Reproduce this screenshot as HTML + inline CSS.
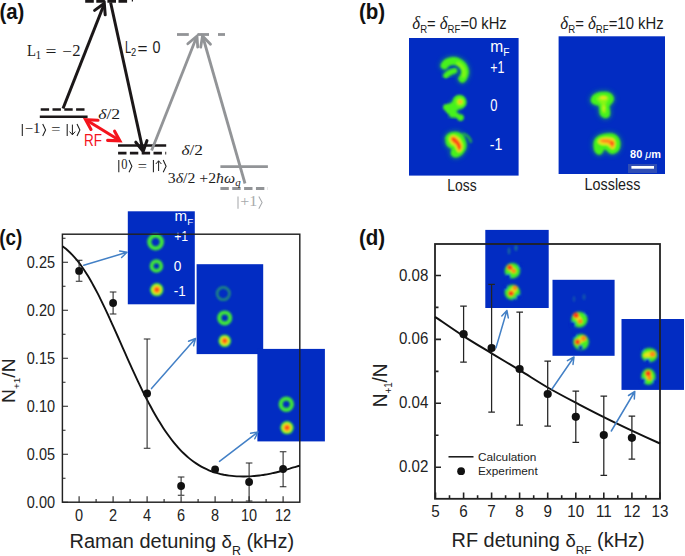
<!DOCTYPE html>
<html><head><meta charset="utf-8"><title>figure</title>
<style>
html,body{margin:0;padding:0;background:#fff;overflow:hidden;}
svg{display:block;}
text{font-family:"Liberation Sans",sans-serif;}
.ser,.ser text,.ser tspan{font-family:"Liberation Serif",serif;}
</style></head><body>
<svg width="685" height="556" viewBox="0 0 685 556">
<defs>
<filter id="b1" x="-50%" y="-50%" width="200%" height="200%"><feGaussianBlur stdDeviation="1.0"/></filter>
<filter id="b2" x="-50%" y="-50%" width="200%" height="200%"><feGaussianBlur stdDeviation="1.25"/></filter>
<filter id="b3" x="-50%" y="-50%" width="200%" height="200%"><feGaussianBlur stdDeviation="2.4"/></filter>
<radialGradient id="gHot"><stop offset="0" stop-color="#ff3c14"/><stop offset="0.28" stop-color="#ff5a18"/><stop offset="0.45" stop-color="#ffc020"/><stop offset="0.62" stop-color="#c8f020"/><stop offset="0.78" stop-color="#40e63a"/><stop offset="0.92" stop-color="#3ee03a"/><stop offset="1" stop-color="#3ee03a" stop-opacity="0"/></radialGradient>
<radialGradient id="gWarm"><stop offset="0" stop-color="#ffc020"/><stop offset="0.4" stop-color="#d0f020"/><stop offset="0.8" stop-color="#3ee03a"/><stop offset="1" stop-color="#3ee03a" stop-opacity="0"/></radialGradient>
<radialGradient id="gGreen"><stop offset="0" stop-color="#b0f030"/><stop offset="0.6" stop-color="#40e038"/><stop offset="1" stop-color="#30d040" stop-opacity="0"/></radialGradient>
</defs>
<rect width="685" height="556" fill="#fff"/>

<g id="pa">
<line x1="85.2" y1="1.2" x2="129.3" y2="1.2" stroke="#1b1718" stroke-width="2.9" stroke-dasharray="8.6 2.5"/>
<line x1="131.8" y1="0.8" x2="133" y2="0.8" stroke="#1b1718" stroke-width="1.6"/>
<g stroke="#1b1718" stroke-width="3" fill="none" stroke-linecap="round" stroke-linejoin="miter">
<line x1="63" y1="108.5" x2="104" y2="4.5" stroke-linecap="butt"/>
<polyline points="94.6,10.4 104.3,3.2 105.2,14.8"/>
<line x1="110.6" y1="2.5" x2="142.8" y2="149.5" stroke-linecap="butt"/>
<polyline points="135.8,142.2 143.2,151.4 147,140.6"/>
</g>
<line x1="40.7" y1="109.5" x2="84.6" y2="109.5" stroke="#1b1718" stroke-width="2.6" stroke-dasharray="8.4 3.4"/>
<line x1="39.8" y1="116.8" x2="87.6" y2="116.8" stroke="#1b1718" stroke-width="2.6"/>
<line x1="118" y1="145.5" x2="166.2" y2="145.5" stroke="#1b1718" stroke-width="2.6"/>
<line x1="118.1" y1="153.1" x2="166.2" y2="153.1" stroke="#1b1718" stroke-width="2.6" stroke-dasharray="8.4 3.4"/>
<g stroke="#929497" stroke-width="2.8" fill="none" stroke-linecap="round">
<g stroke-linecap="butt"><line x1="177" y1="34.5" x2="188.8" y2="34.5"/><line x1="197.6" y1="34.5" x2="209" y2="34.5"/><line x1="218" y1="34.5" x2="225" y2="34.5"/></g>
<line x1="151.6" y1="150.5" x2="196.6" y2="37" stroke-linecap="butt"/>
<polyline points="187.8,43.8 197,36 197.7,47.2"/>
<line x1="245" y1="183.5" x2="202.9" y2="37" stroke-linecap="butt"/>
<polyline points="200.7,47.2 202.5,36 210.5,44.3"/>
<g stroke-linecap="butt"><line x1="220.4" y1="166.7" x2="267.9" y2="166.7"/>
<line x1="220.4" y1="188.5" x2="268" y2="188.5" stroke-dasharray="8.4 3.45"/></g>
</g>
<g stroke="#f4141c" stroke-width="3.1" fill="none" stroke-linecap="round">
<line x1="87.5" y1="120.8" x2="118.5" y2="139.8" stroke-linecap="butt"/>
<polyline points="98,120.3 85.6,119.6 91,129.5"/>
<polyline points="107.6,140.4 119.9,140.8 114.6,131.2"/>
</g>
<text x="84" y="145.7" font-size="17.4" fill="#f4141c" textLength="18" lengthAdjust="spacingAndGlyphs">RF</text>
<text x="-0.6" y="18.8" font-size="22" font-weight="bold" fill="#111" textLength="24.9" lengthAdjust="spacingAndGlyphs">(a)</text>
<g class="ser" font-size="17" fill="#1c1c1c"><text x="27" y="55.7" textLength="9" lengthAdjust="spacingAndGlyphs">L</text><text x="35.4" y="59.2" font-size="11.5">1</text><text x="45.4" y="57" textLength="11" lengthAdjust="spacingAndGlyphs">=</text><text x="62.3" y="57" textLength="9.6" lengthAdjust="spacingAndGlyphs">−</text><text x="72.2" y="55.7" textLength="8.3" lengthAdjust="spacingAndGlyphs">2</text></g>
<g font-size="15.8" fill="#1c1c1c"><text x="125" y="53" textLength="6.2" lengthAdjust="spacingAndGlyphs">L</text><text x="131" y="56.3" font-size="10.3" textLength="5.2" lengthAdjust="spacingAndGlyphs">2</text><text x="137.6" y="53.6" textLength="10" lengthAdjust="spacingAndGlyphs">=</text><text x="152.6" y="53" textLength="8" lengthAdjust="spacingAndGlyphs">0</text></g>
<text class="ser" x="98.2" y="119.2" font-size="15.5" fill="#1c1c1c" textLength="22" lengthAdjust="spacingAndGlyphs"><tspan font-style="italic">δ</tspan>/2</text>
<text class="ser" x="181.5" y="155.4" font-size="15.5" fill="#1c1c1c" textLength="21.5" lengthAdjust="spacingAndGlyphs"><tspan font-style="italic">δ</tspan>/2</text>
<text class="ser" x="167.8" y="182.6" font-size="14.5" fill="#1c1c1c" textLength="72.8" lengthAdjust="spacingAndGlyphs">3<tspan font-style="italic">δ</tspan>/2 +2<tspan font-style="italic">ħω</tspan><tspan font-style="italic" font-size="10" dy="3">q</tspan></text>
<line x1="22.3" y1="123.89999999999999" x2="22.3" y2="136.1" stroke="#1c1c1c" stroke-width="1.05"/>
<text class="ser" x="24.8" y="133.2" font-size="14.5" fill="#1c1c1c" textLength="15.6" lengthAdjust="spacingAndGlyphs">−1</text>
<polyline points="42.7,123.89999999999999 45.6,130.0 42.7,136.1" fill="none" stroke="#1c1c1c" stroke-width="1.05"/>
<text class="ser" x="51.2" y="134.29999999999998" font-size="14.5" fill="#1c1c1c" textLength="9.2" lengthAdjust="spacingAndGlyphs">=</text>
<line x1="67.2" y1="123.89999999999999" x2="67.2" y2="136.1" stroke="#1c1c1c" stroke-width="1.05"/>
<path d="M72.4,124.6V134.79999999999998M69.60000000000001,131.6L72.4,134.79999999999998L75.2,131.6" fill="none" stroke="#1c1c1c" stroke-width="1.0"/>
<polyline points="77,123.89999999999999 79.9,130.0 77,136.1" fill="none" stroke="#1c1c1c" stroke-width="1.05"/>
<line x1="118.8" y1="160.1" x2="118.8" y2="172.3" stroke="#1c1c1c" stroke-width="1.05"/>
<text class="ser" x="121.2" y="169.4" font-size="14.5" fill="#1c1c1c" textLength="6.2" lengthAdjust="spacingAndGlyphs">0</text>
<polyline points="129,160.1 131.9,166.2 129,172.3" fill="none" stroke="#1c1c1c" stroke-width="1.05"/>
<text class="ser" x="137.7" y="170.5" font-size="14.5" fill="#1c1c1c" textLength="9.2" lengthAdjust="spacingAndGlyphs">=</text>
<line x1="153.4" y1="160.1" x2="153.4" y2="172.3" stroke="#1c1c1c" stroke-width="1.05"/>
<path d="M158.6,171.0V160.8M155.79999999999998,164.0L158.6,160.8L161.4,164.0" fill="none" stroke="#1c1c1c" stroke-width="1.0"/>
<polyline points="163.2,160.1 166.1,166.2 163.2,172.3" fill="none" stroke="#1c1c1c" stroke-width="1.05"/>
<line x1="238" y1="196.5" x2="238" y2="208.70000000000002" stroke="#a7a9ac" stroke-width="1.05"/>
<text class="ser" x="240.3" y="205.8" font-size="14.5" fill="#a7a9ac" textLength="17" lengthAdjust="spacingAndGlyphs">+1</text>
<polyline points="258.8,196.5 262.1,202.60000000000002 258.8,208.70000000000002" fill="none" stroke="#a7a9ac" stroke-width="1.05"/>
</g>
<g id="pb">
<text x="359" y="18.8" font-size="22" font-weight="bold" fill="#111" textLength="26.2" lengthAdjust="spacingAndGlyphs">(b)</text>
<rect x="409" y="38" width="109.6" height="137.6" fill="#022cc2"/>
<rect x="558.6" y="36.3" width="106.4" height="137.7" fill="#022cc2"/>
<text x="412.3" y="28.7" font-size="16.2" fill="#1c1c1c" textLength="94.4" lengthAdjust="spacingAndGlyphs"><tspan class="ser" font-style="italic" font-size="18.5">δ</tspan><tspan font-size="10.5" dy="4.4">R</tspan><tspan dy="-4.4">= </tspan><tspan class="ser" font-style="italic" font-size="18.5">δ</tspan><tspan font-size="10.5" dy="4.4">RF</tspan><tspan dy="-4.4">=0 kHz</tspan></text>
<text x="560.3" y="28.7" font-size="16.2" fill="#1c1c1c" textLength="103.3" lengthAdjust="spacingAndGlyphs"><tspan class="ser" font-style="italic" font-size="18.5">δ</tspan><tspan font-size="10.5" dy="4.4">R</tspan><tspan dy="-4.4">= </tspan><tspan class="ser" font-style="italic" font-size="18.5">δ</tspan><tspan font-size="10.5" dy="4.4">RF</tspan><tspan dy="-4.4">=10 kHz</tspan></text>
<text x="447.3" y="190.6" font-size="15.8" fill="#1c1c1c" textLength="29.4" lengthAdjust="spacingAndGlyphs">Loss</text>
<text x="584.6" y="190.4" font-size="15.8" fill="#1c1c1c" textLength="55.8" lengthAdjust="spacingAndGlyphs">Lossless</text>
<g fill="#fff" font-size="16">
<text x="490.3" y="51.8" textLength="19.2" lengthAdjust="spacingAndGlyphs">m<tspan font-size="10.5" dy="4.3">F</tspan></text>
<text x="490.3" y="72.7" textLength="14.2" lengthAdjust="spacingAndGlyphs">+1</text>
<text x="490.2" y="111.3" textLength="7.2" lengthAdjust="spacingAndGlyphs">0</text>
<text x="489.8" y="150.2" textLength="12.6" lengthAdjust="spacingAndGlyphs">-1</text>
</g>
<rect x="628" y="164" width="29" height="9" fill="#2f4db4"/>
<rect x="631.4" y="166" width="22.6" height="2.7" fill="#fff"/>
<text x="630.1" y="158.4" font-size="11" font-weight="bold" fill="#fff" textLength="31" lengthAdjust="spacingAndGlyphs">80 <tspan font-style="italic" font-weight="normal">μ</tspan>m</text>
<path d="M444.5,65.5 C446.5,61 454,59.5 459,62.5 C465,66 466,72 464,76 C463.5,77.5 462.8,78.3 462.3,78.8" fill="none" stroke="#1fae58" stroke-width="10" stroke-linecap="round" stroke-linejoin="round" opacity="0.55" filter="url(#b3)"/>
<path d="M446,75.5 C447.5,73.5 450,72 454.5,70.8" fill="none" stroke="#1fae58" stroke-width="7" stroke-linecap="round" stroke-linejoin="round" opacity="0.55" filter="url(#b3)"/>
<g filter="url(#b2)">
<path d="M444.5,65.5 C446.5,61 454,59.5 459,62.5 C465,66 466,72 464,76 C463.5,77.5 462.8,78.3 462.3,78.8" fill="none" stroke="#46f21e" stroke-width="7.6" stroke-linecap="round" stroke-linejoin="round"/>
<path d="M446,75.5 C447.5,73.5 450,72 454.5,70.8" fill="none" stroke="#46f21e" stroke-width="5.4" stroke-linecap="round" stroke-linejoin="round"/>
<path d="M458,63.5 C464,67 465,72 463.5,76" fill="none" stroke="#86f818" stroke-width="3.2" stroke-linecap="round" stroke-linejoin="round"/>
</g>
<path d="M459.5,102 L455,106 L451.3,108.7 L453.5,113.3" fill="none" stroke="#1fae58" stroke-width="11" stroke-linecap="round" stroke-linejoin="round" opacity="0.55" filter="url(#b3)"/>
<g filter="url(#b2)">
<circle cx="459.5" cy="102" r="7.2" fill="#46f21e"/><circle cx="450.3" cy="108.7" r="5.4" fill="#46f21e"/><circle cx="446.3" cy="107.2" r="3.2" fill="#46f21e"/><circle cx="455" cy="106" r="5" fill="#46f21e"/><circle cx="453" cy="113.5" r="4" fill="#46f21e"/><circle cx="457" cy="115.5" r="2.6" fill="#46f21e"/><circle cx="460.5" cy="117.6" r="3.4" fill="#46f21e"/>
<circle cx="460" cy="102" r="4" fill="#86f818"/><circle cx="460.2" cy="101.8" r="2.4" fill="#e6e61e"/><circle cx="460.3" cy="101.8" r="1.4" fill="#ff8c1a"/>
</g>
<path d="M445.8,138.6 C447.3,132.2 457.5,130.8 461.5,135 C466,139.5 467,147 463.5,151.5 C460.5,156.5 455,158 452.5,155.5 C450.5,153 452,150 453,148 C449,148 445.5,144.5 446.5,139 Z" fill="#1fae58" stroke="#1fae58" stroke-width="4" stroke-linecap="round" stroke-linejoin="round" opacity="0.55" filter="url(#b3)"/>
<g filter="url(#b2)">
<path d="M445.8,138.6 C447.3,132.2 457.5,130.8 461.5,135 C466,139.5 467,147 463.5,151.5 C460.5,156.5 455,158 452.5,155.5 C450.5,153 452,150 453,148 C449,148 445.5,144.5 446.5,139 Z" fill="#46f21e" stroke="#46f21e" stroke-width="1.6" stroke-linecap="round" stroke-linejoin="round"/>
<path d="M463.5,134 C467,135 469.8,138 470.8,141.5" fill="none" stroke="#25b045" stroke-width="3" stroke-linecap="round" opacity="0.85"/>
<path d="M450,137.5 C452.5,133.5 458.5,136.5 460.8,141.5 C463.3,146 462.3,151.5 458.5,152 C456.3,150.5 456.6,147 454.8,145.3 C451.8,144.3 448.5,141 450,137.5 Z" fill="#e6e61e" stroke="#e6e61e" stroke-width="1.2" stroke-linejoin="round"/>
<path d="M451.6,137.8 C453.8,136 457.6,139.3 459.7,143.2 C461.8,146.5 460.8,150 458.8,150 C457.6,147.3 457.3,145.6 455.8,143.7 C453.8,142.7 450.8,140.5 451.6,137.8 Z" fill="#ff4a18" stroke="#ff4a18" stroke-width="0.9" stroke-linejoin="round"/>
</g>
<path d="M591.5,99.5 C592.5,93.5 600,92 606,92.5 C612,93.5 614.5,97.5 612.5,101.5 C610.5,104 609,104.5 608.5,107 C609.5,111 610.5,114.5 608.5,116.5 C605.5,118.5 601.5,117 600.5,114 C599.5,110 600.5,106.5 599,105 C595,104.5 591,103 591.5,99.5 Z" fill="#1fae58" stroke="#1fae58" stroke-width="4" stroke-linecap="round" stroke-linejoin="round" opacity="0.55" filter="url(#b3)"/>
<g filter="url(#b2)">
<path d="M591.5,99.5 C592.5,93.5 600,92 606,92.5 C612,93.5 614.5,97.5 612.5,101.5 C610.5,104 609,104.5 608.5,107 C609.5,111 610.5,114.5 608.5,116.5 C605.5,118.5 601.5,117 600.5,114 C599.5,110 600.5,106.5 599,105 C595,104.5 591,103 591.5,99.5 Z" fill="#46f21e" stroke="#46f21e" stroke-width="1.4" stroke-linecap="round" stroke-linejoin="round"/>
<path d="M596.5,98.3 C598.5,95 607.5,94.8 609,98 C608.5,100.8 606,101.5 605.6,104.5 C605.8,108.5 606.6,113 604.5,113.6 C602.3,113 602.6,108 601.8,104.5 C600.5,101.5 596.5,101.3 596.5,98.3 Z" fill="#86f818"/>
<ellipse cx="603.4" cy="97.8" rx="3.4" ry="1.8" fill="#e6e61e"/><ellipse cx="603.6" cy="108.5" rx="1.1" ry="3.2" fill="#c8f01c"/>
</g>
<path d="M594.3,143 C595,136 604,133.5 611,134 C618,135 620.5,140.5 619.5,146.5 C618.5,152.5 613,154.5 609.5,152.5 C607,150.5 606.5,148 604,148.5 C602.5,150 602.5,154.5 598.5,154 C595,152.5 593.8,148 594.3,143 Z" fill="#1fae58" stroke="#1fae58" stroke-width="4" stroke-linecap="round" stroke-linejoin="round" opacity="0.55" filter="url(#b3)"/>
<g filter="url(#b2)">
<path d="M594.3,143 C595,136 604,133.5 611,134 C618,135 620.5,140.5 619.5,146.5 C618.5,152.5 613,154.5 609.5,152.5 C607,150.5 606.5,148 604,148.5 C602.5,150 602.5,154.5 598.5,154 C595,152.5 593.8,148 594.3,143 Z" fill="#46f21e" stroke="#46f21e" stroke-width="1.4" stroke-linecap="round" stroke-linejoin="round"/>
<path d="M597.6,141.5 C599,137 607,136.5 612.8,138 C616.6,140.3 616.6,146 613.8,149 C611,150 609.5,146 606.5,145 C603.5,145 598.6,145.5 597.6,141.5 Z" fill="#e6e61e"/>
<path d="M599.6,140.5 C602.6,138.6 609.2,138.6 613.3,140.8 C615,143.5 614,147.5 612.2,148 C610.5,146.4 610,143.9 607.5,143.1 C604.5,142.9 600.6,142.8 599.6,140.5 Z" fill="#ff8c1a"/>
<circle cx="612.4" cy="143.2" r="1.8" fill="#ff4a18"/>
</g>
</g>
</g>
<g id="pc">
<text x="-0.8" y="245" font-size="22" font-weight="bold" fill="#111" textLength="23" lengthAdjust="spacingAndGlyphs">(c)</text>
<rect x="127.8" y="211.3" width="67" height="93" fill="#022cc2"/>
<rect x="196.6" y="264.2" width="66.6" height="89.9" fill="#022cc2"/>
<rect x="257.4" y="348.9" width="67.5" height="92.5" fill="#022cc2"/>
<circle cx="155.6" cy="242" r="6.3" fill="none" stroke="#3fe63a" stroke-width="4.2" opacity="1.0" filter="url(#b1)"/>
<circle cx="156.4" cy="266" r="4.8" fill="none" stroke="#3fe63a" stroke-width="3.9" opacity="1.0" filter="url(#b1)"/>
<circle cx="156.8" cy="289.7" r="7" fill="url(#gHot)" filter="url(#b1)"/>
<circle cx="223.3" cy="293.6" r="6.2" fill="none" stroke="#26a070" stroke-width="2.6" opacity="0.8" filter="url(#b1)"/>
<circle cx="224.7" cy="317.9" r="5.4" fill="none" stroke="#3fe63a" stroke-width="4.2" opacity="1.0" filter="url(#b1)"/>
<circle cx="224.7" cy="340.8" r="6.6" fill="url(#gHot)" filter="url(#b1)"/>
<circle cx="286.3" cy="404.2" r="5.6" fill="none" stroke="#3fe63a" stroke-width="4.2" opacity="1.0" filter="url(#b1)"/>
<circle cx="287" cy="427.7" r="7" fill="url(#gHot)" filter="url(#b1)"/>
<g fill="#fff" font-size="15">
<text x="174.6" y="221" textLength="18.6" lengthAdjust="spacingAndGlyphs">m<tspan font-size="9.8" dy="3.8">F</tspan></text>
<text x="174.2" y="240.6" textLength="14" lengthAdjust="spacingAndGlyphs">+1</text>
<text x="173.8" y="271" textLength="7.6" lengthAdjust="spacingAndGlyphs">0</text>
<text x="173.8" y="296" textLength="12" lengthAdjust="spacingAndGlyphs">-1</text>
</g>
<rect x="62.4" y="234.2" width="237.4" height="268" fill="none" stroke="#222" stroke-width="1.45"/>
<path d="M62.5,502.2h5.5 M62.5,478.2h3 M62.5,454.2h5.5 M62.5,430.2h3 M62.5,406.2h5.5 M62.5,382.2h3 M62.5,358.2h5.5 M62.5,334.2h3 M62.5,310.2h5.5 M62.5,286.2h3 M62.5,262.2h5.5 M62.5,238.2h3 M79.1,502.2v-6 M96.1,502.2v-3.2 M113.1,502.2v-6 M130.1,502.2v-3.2 M147.1,502.2v-6 M164.1,502.2v-3.2 M181.1,502.2v-6 M198.1,502.2v-3.2 M215.1,502.2v-6 M232.1,502.2v-3.2 M249.1,502.2v-6 M266.1,502.2v-3.2 M283.1,502.2v-6" stroke="#222" stroke-width="1.1" fill="none"/>
<g font-size="14.5" fill="#222">
<text transform="translate(55,507.8) scale(1,1.17)" text-anchor="end">0.00</text>
<text transform="translate(55,459.8) scale(1,1.17)" text-anchor="end">0.05</text>
<text transform="translate(55,411.8) scale(1,1.17)" text-anchor="end">0.10</text>
<text transform="translate(55,363.8) scale(1,1.17)" text-anchor="end">0.15</text>
<text transform="translate(55,315.8) scale(1,1.17)" text-anchor="end">0.20</text>
<text transform="translate(55,267.8) scale(1,1.17)" text-anchor="end">0.25</text>
<text transform="translate(79.1,520.6) scale(1,1.13)" text-anchor="middle">0</text>
<text transform="translate(113.1,520.6) scale(1,1.13)" text-anchor="middle">2</text>
<text transform="translate(147.1,520.6) scale(1,1.13)" text-anchor="middle">4</text>
<text transform="translate(181.1,520.6) scale(1,1.13)" text-anchor="middle">6</text>
<text transform="translate(215.1,520.6) scale(1,1.13)" text-anchor="middle">8</text>
<text transform="translate(249.1,520.6) scale(1,1.13)" text-anchor="middle">10</text>
<text transform="translate(283.1,520.6) scale(1,1.13)" text-anchor="middle">12</text>
</g>
<text x="69.6" y="547.8" font-size="19.3" fill="#222" textLength="224.5" lengthAdjust="spacingAndGlyphs">Raman detuning <tspan font-size="18">δ</tspan><tspan font-size="12" dy="7.2">R</tspan><tspan dy="-7.2"> (kHz)</tspan></text>
<text transform="translate(14.7,403) rotate(-90)" font-size="18.3" fill="#222" textLength="44.6" lengthAdjust="spacingAndGlyphs">N<tspan font-size="9.5" dy="5">+1</tspan><tspan dy="-5">/N</tspan></text>
<path d="M62.4,246.27 C63.2,246.9 65.8,248.7 67.5,250.21 C69.2,251.7 70.8,253.3 72.5,255.05 C74.2,256.8 75.9,258.8 77.6,260.86 C79.3,263.0 80.9,265.2 82.6,267.68 C84.3,270.1 86.0,272.7 87.7,275.48 C89.4,278.2 91.0,281.1 92.7,284.18 C94.4,287.2 96.1,290.4 97.8,293.68 C99.5,297.0 101.1,300.4 102.8,303.86 C104.5,307.3 106.2,310.9 107.9,314.57 C109.6,318.2 111.2,321.9 112.9,325.67 C114.6,329.4 116.3,333.2 118.0,337.0 C119.7,340.8 121.3,344.6 123.0,348.42 C124.7,352.2 126.4,356.0 128.1,359.77 C129.8,363.5 131.4,367.3 133.1,370.94 C134.8,374.6 136.5,378.2 138.2,381.79 C139.9,385.3 141.5,388.8 143.2,392.22 C144.9,395.6 146.6,398.9 148.3,402.14 C150.0,405.3 151.6,408.5 153.3,411.48 C155.0,414.5 156.7,417.4 158.4,420.19 C160.1,423.0 161.7,425.7 163.4,428.22 C165.1,430.8 166.8,433.2 168.5,435.55 C170.2,437.9 171.8,440.1 173.5,442.17 C175.2,444.3 176.9,446.2 178.6,448.08 C180.3,449.9 181.9,451.7 183.6,453.3 C185.3,454.9 187.0,456.5 188.7,457.87 C190.4,459.3 192.0,460.6 193.7,461.8 C195.4,463.0 197.1,464.1 198.8,465.15 C200.5,466.2 202.1,467.1 203.8,467.96 C205.5,468.8 207.2,469.6 208.9,470.28 C210.6,471.0 212.2,471.6 213.9,472.16 C215.6,472.7 217.3,473.2 219.0,473.64 C220.7,474.1 222.3,474.4 224.0,474.77 C225.7,475.1 227.4,475.4 229.1,475.59 C230.8,475.8 232.4,476.0 234.1,476.13 C235.8,476.3 237.5,476.4 239.2,476.42 C240.9,476.5 242.5,476.5 244.2,476.49 C245.9,476.5 247.6,476.4 249.3,476.34 C251.0,476.3 252.6,476.1 254.3,476.0 C256.0,475.9 257.7,475.7 259.4,475.46 C261.1,475.2 262.7,475.0 264.4,474.73 C266.1,474.5 267.8,474.2 269.5,473.82 C271.2,473.5 272.8,473.1 274.5,472.74 C276.2,472.4 277.9,471.9 279.6,471.49 C281.3,471.1 282.9,470.6 284.6,470.11 C286.3,469.6 288.0,469.1 289.7,468.64 C291.4,468.1 293.0,467.6 294.7,467.17 C296.4,466.7 298.9,466.0 299.8,465.78" fill="none" stroke="#111" stroke-width="1.9"/>
<path d="M79.1,260.3V281.2M75.8,260.3h6.6M75.8,281.2h6.6" stroke="#242424" stroke-width="1.05" fill="none"/><circle cx="79.1" cy="270.9" r="3.9" fill="#111"/>
<path d="M113.1,292.0V314.0M109.8,292.0h6.6M109.8,314.0h6.6" stroke="#242424" stroke-width="1.05" fill="none"/><circle cx="113.1" cy="303.0" r="3.9" fill="#111"/>
<path d="M147.1,339.0V448.3M143.8,339.0h6.6M143.8,448.3h6.6" stroke="#242424" stroke-width="1.05" fill="none"/><circle cx="147.1" cy="393.4" r="3.9" fill="#111"/>
<path d="M181.1,477.0V495.3M177.8,477.0h6.6M177.8,495.3h6.6" stroke="#242424" stroke-width="1.05" fill="none"/><circle cx="181.1" cy="486.0" r="3.9" fill="#111"/>
<path d="M215.1,466.5V472.5M213.1,466.5h4M213.1,472.5h4" stroke="#242424" stroke-width="1.05" fill="none"/><circle cx="215.1" cy="469.4" r="3.9" fill="#111"/>
<path d="M249.1,463.0V500.9M245.8,463.0h6.6M245.8,500.9h6.6" stroke="#242424" stroke-width="1.05" fill="none"/><circle cx="249.1" cy="482.0" r="3.9" fill="#111"/>
<path d="M283.1,451.8V486.8M279.8,451.8h6.6M279.8,486.8h6.6" stroke="#242424" stroke-width="1.05" fill="none"/><circle cx="283.1" cy="469.0" r="3.9" fill="#111"/>
<path d="M83.8,265.2L127,252.3M127,252.3L121.6,257.5M127,252.3L119.6,250.9" stroke="#4380c6" stroke-width="1.5" fill="none" stroke-linecap="round"/>
<path d="M151.5,388.6L195.5,338.5M195.5,338.5L193.6,345.8M195.5,338.5L188.5,341.3" stroke="#4380c6" stroke-width="1.5" fill="none" stroke-linecap="round"/>
<path d="M219.5,461.4L258,432M258,432L254.8,438.8M258,432L250.6,433.3" stroke="#4380c6" stroke-width="1.5" fill="none" stroke-linecap="round"/>
</g>
<g id="pd">
<text x="359" y="245.4" font-size="22" font-weight="bold" fill="#111" textLength="26.2" lengthAdjust="spacingAndGlyphs">(d)</text>
<rect x="485.3" y="229.9" width="63.4" height="78.1" fill="#022cc2"/>
<rect x="552.5" y="279.8" width="62.1" height="76" fill="#022cc2"/>
<rect x="621.5" y="319" width="62.5" height="70.9" fill="#022cc2"/>
<g filter="url(#b1)"><ellipse cx="512.4" cy="270.7" rx="8.4" ry="8.4" fill="#22b050" opacity="0.6"/><ellipse cx="512.4" cy="270.7" rx="7.2" ry="7.2" fill="#46f020"/><ellipse cx="511.8" cy="269.2" rx="4.6" ry="2.6" fill="#e4e81e" transform="rotate(40 511.8 269.2)"/><circle cx="509.8" cy="267.4" r="2.7" fill="#ff3c14"/><circle cx="513.8" cy="271" r="2.295" fill="#ff8a18"/><circle cx="508" cy="276.6" r="2.6" fill="#022cc2"/><circle cx="520.5" cy="266" r="2.2" fill="#022cc2"/></g>
<g filter="url(#b1)"><ellipse cx="512.4" cy="292.4" rx="8.4" ry="8.4" fill="#22b050" opacity="0.6"/><ellipse cx="512.4" cy="292.4" rx="7.2" ry="7.2" fill="#46f020"/><ellipse cx="513" cy="290.8" rx="4.4" ry="2.8" fill="#e4e81e" transform="rotate(-50 513 290.8)"/><circle cx="511" cy="293.4" r="2.7" fill="#ff3c14"/><circle cx="515" cy="288" r="2.43" fill="#ff8a18"/><circle cx="518.8" cy="297" r="2.6" fill="#022cc2"/><circle cx="505.5" cy="287.5" r="2.2" fill="#022cc2"/><circle cx="514" cy="299.5" r="1.6" fill="#022cc2"/></g>
<g filter="url(#b1)"><ellipse cx="579.4" cy="319.6" rx="8.799999999999999" ry="8.6" fill="#22b050" opacity="0.6"/><ellipse cx="579.4" cy="319.6" rx="7.6" ry="7.4" fill="#46f020"/><ellipse cx="578.2" cy="318.4" rx="4.8" ry="2.6" fill="#e4e81e" transform="rotate(50 578.2 318.4)"/><circle cx="576" cy="315.3" r="2.8350000000000004" fill="#ff3c14"/><circle cx="580.2" cy="321.4" r="2.43" fill="#ff8a18"/><circle cx="572.6" cy="324.4" r="2.8" fill="#022cc2"/><circle cx="586.5" cy="313.5" r="2.0" fill="#022cc2"/></g>
<g filter="url(#b1)"><ellipse cx="581" cy="342" rx="8.6" ry="8.799999999999999" fill="#22b050" opacity="0.6"/><ellipse cx="581" cy="342" rx="7.4" ry="7.6" fill="#46f020"/><ellipse cx="580.5" cy="340.2" rx="4.8" ry="2.8" fill="#e4e81e" transform="rotate(-30 580.5 340.2)"/><circle cx="577.5" cy="342" r="2.7" fill="#ff3c14"/><circle cx="583.6" cy="338.4" r="2.7" fill="#ff8a18"/><circle cx="580.6" cy="347.6" r="2.4" fill="#022cc2"/><circle cx="574.5" cy="335.5" r="2.2" fill="#022cc2"/></g>
<g filter="url(#b1)"><ellipse cx="649.4" cy="355" rx="8.799999999999999" ry="7.8" fill="#22b050" opacity="0.6"/><ellipse cx="649.4" cy="355" rx="7.6" ry="6.6" fill="#46f020"/><ellipse cx="649" cy="354.6" rx="5.2" ry="2.6" fill="#e4e81e" transform="rotate(-8 649 354.6)"/><circle cx="652.6" cy="354.2" r="2.8350000000000004" fill="#ff8a18"/><circle cx="645" cy="355.5" r="1.62" fill="#f0d81c"/><circle cx="647.4" cy="361.2" r="2.5" fill="#022cc2"/><circle cx="642.5" cy="349.5" r="1.8" fill="#022cc2"/></g>
<g filter="url(#b1)"><ellipse cx="648.4" cy="376.6" rx="7.8" ry="8.799999999999999" fill="#22b050" opacity="0.6"/><ellipse cx="648.4" cy="376.6" rx="6.6" ry="7.6" fill="#46f020"/><ellipse cx="648.6" cy="375.6" rx="3" ry="4.4" fill="#e4e81e" transform="rotate(-10 648.6 375.6)"/><circle cx="648.2" cy="373.4" r="2.8350000000000004" fill="#ff3c14"/><circle cx="649.6" cy="378.2" r="2.16" fill="#ff8a18"/><circle cx="642.8" cy="380.8" r="2.6" fill="#022cc2"/><circle cx="655" cy="381.5" r="2.2" fill="#022cc2"/></g>
<ellipse cx="509" cy="251" rx="1.2" ry="3.5" fill="#2a9a80" opacity="0.6" filter="url(#b1)"/><ellipse cx="516" cy="248" rx="1.5" ry="3" fill="#2a9a80" opacity="0.6" filter="url(#b1)"/>
<ellipse cx="574" cy="299" rx="1.2" ry="3" fill="#2a8a90" opacity="0.45" filter="url(#b1)"/><ellipse cx="584" cy="297" rx="1.5" ry="3" fill="#2a8a90" opacity="0.45" filter="url(#b1)"/>
<rect x="435" y="244" width="225" height="254.8" fill="none" stroke="#222" stroke-width="1.8"/>
<path d="M435.5,467.2h5.5 M435.5,403.3h5.5 M435.5,435.2h3 M435.5,339.4h5.5 M435.5,371.4h3 M435.5,275.5h5.5 M435.5,307.4h3 M435.5,498.8v-6.3 M449.5,498.8v-3.5 M463.6,498.8v-6.3 M477.6,498.8v-3.5 M491.6,498.8v-6.3 M505.6,498.8v-3.5 M519.6,498.8v-6.3 M533.7,498.8v-3.5 M547.7,498.8v-6.3 M561.7,498.8v-3.5 M575.8,498.8v-6.3 M589.8,498.8v-3.5 M603.8,498.8v-6.3 M617.8,498.8v-3.5 M631.9,498.8v-6.3 M645.9,498.8v-3.5 M659.9,498.8v-6.3" stroke="#222" stroke-width="1.6" fill="none"/>
<g font-size="14.5" fill="#222">
<text transform="translate(428.3,472.2) scale(1.04,1.18)" text-anchor="end">0.02</text>
<text transform="translate(428.3,408.3) scale(1.04,1.18)" text-anchor="end">0.04</text>
<text transform="translate(428.3,344.4) scale(1.04,1.18)" text-anchor="end">0.06</text>
<text transform="translate(428.3,280.5) scale(1.04,1.18)" text-anchor="end">0.08</text>
<text transform="translate(435.5,517.3) scale(1.05,1.14)" text-anchor="middle">5</text>
<text transform="translate(463.6,517.3) scale(1.05,1.14)" text-anchor="middle">6</text>
<text transform="translate(491.6,517.3) scale(1.05,1.14)" text-anchor="middle">7</text>
<text transform="translate(519.6,517.3) scale(1.05,1.14)" text-anchor="middle">8</text>
<text transform="translate(547.7,517.3) scale(1.05,1.14)" text-anchor="middle">9</text>
<text transform="translate(575.8,517.3) scale(1.05,1.14)" text-anchor="middle">10</text>
<text transform="translate(603.8,517.3) scale(1.05,1.14)" text-anchor="middle">11</text>
<text transform="translate(631.9,517.3) scale(1.05,1.14)" text-anchor="middle">12</text>
<text transform="translate(659.9,517.3) scale(1.05,1.14)" text-anchor="middle">13</text>
</g>
<text x="451.6" y="547" font-size="19.3" fill="#222" textLength="193" lengthAdjust="spacingAndGlyphs">RF detuning <tspan font-size="18">δ</tspan><tspan font-size="11.5" dy="7.2">RF</tspan><tspan dy="-7.2"> (kHz)</tspan></text>
<text transform="translate(386.8,407.2) rotate(-90)" font-size="19.6" fill="#222" textLength="43.8" lengthAdjust="spacingAndGlyphs">N<tspan font-size="10" dy="5.6">+1</tspan><tspan dy="-5.6">/N</tspan></text>
<path d="M435.0,316.8 C439.8,320.0 454.1,330.0 463.5,336.1 C472.9,342.2 482.2,347.6 491.6,353.3 C501.0,359.0 510.2,364.5 519.6,370.2 C529.0,375.9 538.4,382.1 547.7,387.5 C557.1,392.9 566.4,397.8 575.7,402.7 C585.1,407.6 594.4,412.5 603.8,417.1 C613.1,421.8 622.4,426.2 631.8,430.6 C641.2,435.0 655.3,441.4 660,443.5" fill="none" stroke="#111" stroke-width="2"/>
<path d="M463.6,306.2V362.0M460.2,306.2h6.6M460.2,362.0h6.6" stroke="#242424" stroke-width="1.25" fill="none"/><circle cx="463.6" cy="334.2" r="4.1" fill="#111"/>
<path d="M491.6,284.3V412.0M488.3,284.3h6.6M488.3,412.0h6.6" stroke="#242424" stroke-width="1.25" fill="none"/><circle cx="491.6" cy="348.0" r="4.1" fill="#111"/>
<path d="M519.6,312.0V425.0M516.4,312.0h6.6M516.4,425.0h6.6" stroke="#242424" stroke-width="1.25" fill="none"/><circle cx="519.6" cy="369.0" r="4.1" fill="#111"/>
<path d="M547.7,361.0V426.2M544.4,361.0h6.6M544.4,426.2h6.6" stroke="#242424" stroke-width="1.25" fill="none"/><circle cx="547.7" cy="394.0" r="4.1" fill="#111"/>
<path d="M575.8,391.0V442.4M572.5,391.0h6.6M572.5,442.4h6.6" stroke="#242424" stroke-width="1.25" fill="none"/><circle cx="575.8" cy="416.8" r="4.1" fill="#111"/>
<path d="M603.8,396.0V475.3M600.5,396.0h6.6M600.5,475.3h6.6" stroke="#242424" stroke-width="1.25" fill="none"/><circle cx="603.8" cy="435.1" r="4.1" fill="#111"/>
<path d="M631.9,416.0V459.1M628.6,416.0h6.6M628.6,459.1h6.6" stroke="#242424" stroke-width="1.25" fill="none"/><circle cx="631.9" cy="437.8" r="4.1" fill="#111"/>
<path d="M496,347.7L506.9,310.5M506.9,310.5L508.3,317.9M506.9,310.5L501.8,316.0" stroke="#4380c6" stroke-width="1.5" fill="none" stroke-linecap="round"/>
<path d="M552,389L574,357M574,357L573.0,364.4M574,357L567.4,360.6" stroke="#4380c6" stroke-width="1.5" fill="none" stroke-linecap="round"/>
<path d="M611.3,431L634.8,391.5M634.8,391.5L634.3,399.0M634.8,391.5L628.5,395.5" stroke="#4380c6" stroke-width="1.5" fill="none" stroke-linecap="round"/>
<line x1="448.5" y1="456.8" x2="473.5" y2="456.8" stroke="#111" stroke-width="1.5"/>
<circle cx="461.1" cy="471.2" r="3.9" fill="#111"/>
<text x="478" y="460.7" font-size="11.8" fill="#222">Calculation</text>
<text x="478" y="475.3" font-size="11.8" fill="#222">Experiment</text>
</g>
</svg></body></html>
